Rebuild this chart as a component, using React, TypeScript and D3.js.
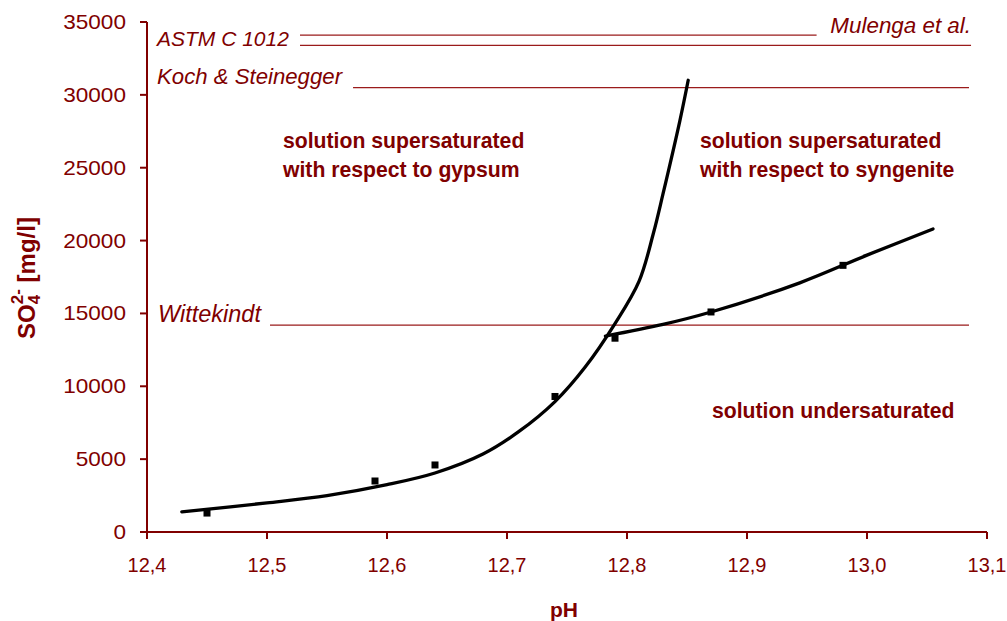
import React from "react";
import * as d3 from "d3";

const xTicks = [12.4, 12.5, 12.6, 12.7, 12.8, 12.9, 13.0, 13.1];
const yTicks = [0, 5000, 10000, 15000, 20000, 25000, 30000, 35000];

// gypsum saturation curve
const gypsumPH = [12.429, 12.5, 12.55, 12.6, 12.64, 12.68, 12.71, 12.74, 12.765, 12.79, 12.81, 12.822, 12.83, 12.844, 12.851];
const gypsumSO4 = [1380, 2000, 2500, 3250, 4050, 5350, 6900, 8950, 11300, 14300, 17200, 20500, 23200, 28200, 31000];

// syngenite saturation curve
const syngenitePH = [12.782, 12.83, 12.87, 12.944, 13.0, 13.055];
const syngeniteSO4 = [13450, 14250, 15100, 17100, 19000, 20800];

// measured points
const pointPH = [12.45, 12.59, 12.64, 12.74, 12.79, 12.87, 12.98];
const pointSO4 = [1300, 3500, 4600, 9300, 13300, 15100, 18300];

// reference limits
const refNames = ["ASTM C 1012", "Mulenga et al.", "Koch & Steinegger", "Wittekindt"];
const refValues = [34100, 33400, 30500, 14200];
const refStartPH = [12.5275, 12.5275, 12.5717, 12.5025];
const refEndPH = [12.958, 13.0867, 13.085, 13.085];

const RED = "#800000";
const LINE_RED = "#9a1b1b";

export default function App() {
  const x = d3.scaleLinear().domain([12.4, 13.1]).range([147, 987]);
  const y = d3.scaleLinear().domain([0, 35000]).range([532, 22]);
  const line = d3
    .line<[number, number]>()
    .x((d) => x(d[0]))
    .y((d) => y(d[1]))
    .curve(d3.curveCatmullRom.alpha(0.5));
  const gyp = gypsumPH.map((p, i) => [p, gypsumSO4[i]] as [number, number]);
  const syn = syngenitePH.map((p, i) => [p, syngeniteSO4[i]] as [number, number]);
  const fmtX = (v: number) => d3.format(".1f")(v).replace(".", ",");
  const font = "Liberation Sans, Arial, sans-serif";

  return (
    <svg
      width={1007}
      height={621}
      style={{ position: "absolute", left: 0, top: 0, background: "#fff" }}
      fontFamily={font}
    >
      {/* reference lines */}
      {refValues.map((v, i) => (
        <line
          key={"r" + i}
          x1={x(refStartPH[i])}
          x2={x(refEndPH[i])}
          y1={y(v)}
          y2={y(v)}
          stroke={LINE_RED}
          strokeWidth={1.2}
        />
      ))}
      {/* reference labels */}
      <g fill={RED} fontStyle="italic">
        <text x={157} y={46} fontSize={21}>{refNames[0]}</text>
        <text x={971} y={33} fontSize={22.4} textAnchor="end">{refNames[1]}</text>
        <text x={157} y={84} fontSize={22.2}>{refNames[2]}</text>
        <text x={158} y={322} fontSize={23.5}>{refNames[3]}</text>
      </g>
      {/* region labels */}
      <g fill={RED} fontWeight="bold" fontSize={21.2}>
        <text x={283} y={148}>solution supersaturated</text>
        <text x={283} y={177}>with respect to gypsum</text>
        <text x={700} y={148}>solution supersaturated</text>
        <text x={700} y={177}>with respect to syngenite</text>
        <text x={712} y={418}>solution undersaturated</text>
      </g>
      {/* curves */}
      <path d={line(gyp) || ""} fill="none" stroke="#000" strokeWidth={3.3} strokeLinecap="round" />
      <path d={line(syn) || ""} fill="none" stroke="#000" strokeWidth={3.3} strokeLinecap="round" />
      {/* points */}
      {pointPH.map((p, i) => (
        <rect key={"p" + i} x={x(p) - 3.5} y={y(pointSO4[i]) - 3.5} width={7} height={7} fill="#000" />
      ))}
      {/* axes */}
      <g stroke={RED} strokeWidth={2} fill="none">
        <line x1={x(12.4)} x2={x(12.4)} y1={y(35000)} y2={y(0)} />
        <line x1={x(12.4)} x2={x(13.1)} y1={y(0)} y2={y(0)} />
        {yTicks.map((t) => (
          <line key={"yt" + t} x1={x(12.4) - 7} x2={x(12.4)} y1={y(t)} y2={y(t)} />
        ))}
        {xTicks.map((t) => (
          <line key={"xt" + t} x1={x(t)} x2={x(t)} y1={y(0)} y2={y(0) + 7} />
        ))}
      </g>
      <g fill={RED} fontSize={20}>
        {yTicks.map((t) => (
          <text
            key={"yl" + t}
            transform={`translate(${x(12.4) - 21},${y(t) + 7}) scale(1.13,1)`}
            textAnchor="end"
          >
            {t}
          </text>
        ))}
        {xTicks.map((t) => (
          <text key={"xl" + t} x={x(t)} y={y(0) + 40} textAnchor="middle">
            {fmtX(t)}
          </text>
        ))}
      </g>
      {/* axis titles */}
      <text x={564} y={617} textAnchor="middle" fill={RED} fontWeight="bold" fontSize={21}>
        pH
      </text>
      <text
        transform="translate(35,278) rotate(-90)"
        textAnchor="middle"
        fill={RED}
        fontWeight="bold"
        fontSize={24}
      >
        SO
        <tspan fontSize={17} dy={5}>4</tspan>
        <tspan fontSize={17} dx={-9.5} dy={-17}>2-</tspan>
        <tspan dy={12}>{"  [mg/l]"}</tspan>
      </text>
    </svg>
  );
}
